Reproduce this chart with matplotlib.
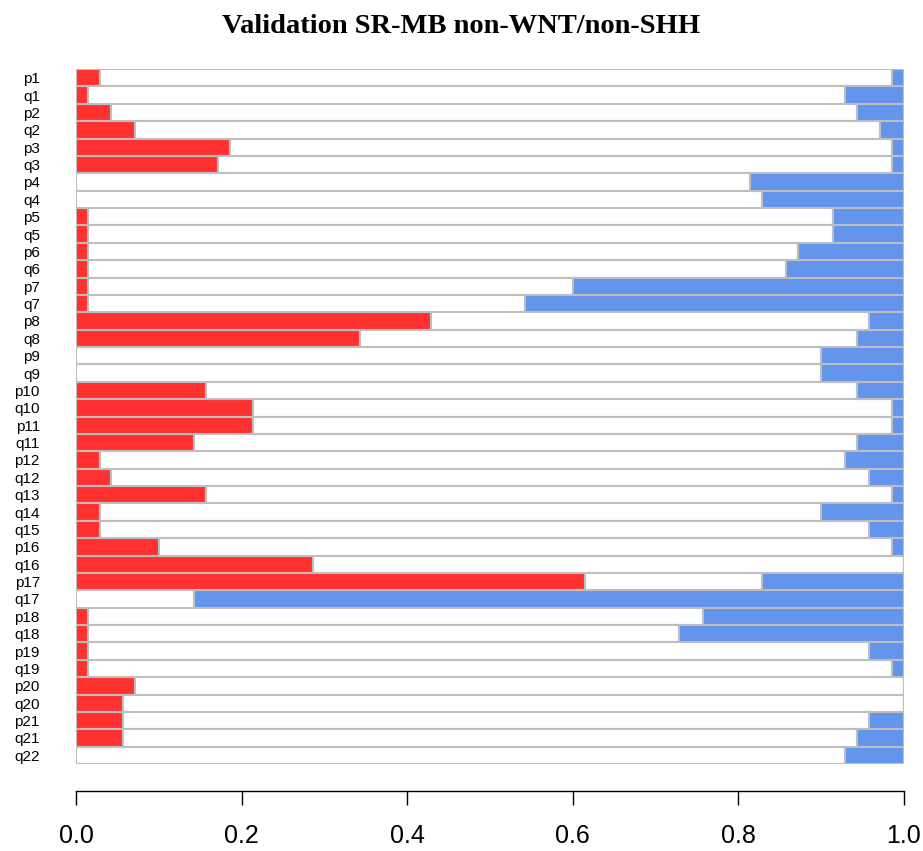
import matplotlib
matplotlib.use("Agg")
import matplotlib.pyplot as plt
import numpy as np

# arm labels, top to bottom
arms = ['p1', 'q1', 'p2', 'q2', 'p3', 'q3', 'p4', 'q4', 'p5', 'q5',
        'p6', 'q6', 'p7', 'q7', 'p8', 'q8', 'p9', 'q9', 'p10', 'q10',
        'p11', 'q11', 'p12', 'q12', 'q13', 'q14', 'q15', 'p16', 'q16', 'p17',
        'q17', 'p18', 'q18', 'p19', 'q19', 'p20', 'q20', 'p21', 'q21', 'q22']

# fraction of samples (n = 70) with gain (red) and loss (blue)
gain = np.array([2, 1, 3, 5, 13, 12, 0, 0, 1, 1,
                 1, 1, 1, 1, 30, 24, 0, 0, 11, 15,
                 15, 10, 2, 3, 11, 2, 2, 7, 20, 43,
                 0, 1, 1, 1, 1, 5, 4, 4, 4, 0]) / 70
loss = np.array([1, 5, 4, 2, 1, 1, 13, 12, 6, 6,
                 9, 10, 28, 32, 3, 4, 7, 7, 4, 1,
                 1, 4, 5, 3, 1, 7, 3, 1, 0, 12,
                 60, 17, 19, 3, 1, 0, 0, 3, 4, 5]) / 70
neutral = 1 - gain - loss

fig = plt.figure(figsize=(9.23, 8.51), dpi=100)
ax = fig.add_axes([76 / 923, 87 / 851, 828 / 923, 695 / 851])

y = np.arange(len(arms))
edge = '#bebebe'
ax.barh(y, gain, height=1, color='#ff3030', edgecolor=edge, linewidth=1.5)
ax.barh(y, neutral, left=gain, height=1, color='white', edgecolor=edge, linewidth=1.5)
ax.barh(y, loss, left=gain + neutral, height=1, color='#6495ed', edgecolor=edge, linewidth=1.5)

ax.set_xlim(0, 1)
ax.set_ylim(len(arms) - 0.5, -0.5)
ax.set_yticks(y)
ax.set_yticklabels(arms, fontsize=11, family='Liberation Sans')
ax.tick_params(axis='y', length=0, pad=26)

for s in ['top', 'right', 'left']:
    ax.spines[s].set_visible(False)
ax.spines['bottom'].set_position(('outward', 19.5))
ax.spines['bottom'].set_bounds(0, 1)
ax.spines['bottom'].set_linewidth(1.0)
ax.set_xticks([0, 0.2, 0.4, 0.6, 0.8, 1.0])
ax.set_xticklabels(['0.0', '0.2', '0.4', '0.6', '0.8', '1.0'], fontsize=18,
                   family='Liberation Sans')
ax.tick_params(axis='x', length=10, width=1.0, pad=14)

fig.text(0.5, 0.984, 'Validation SR-MB non-WNT/non-SHH', ha='center', va='top',
         fontsize=20.5, fontweight='bold', family='Liberation Serif')

fig.savefig('out.png', dpi=100)
